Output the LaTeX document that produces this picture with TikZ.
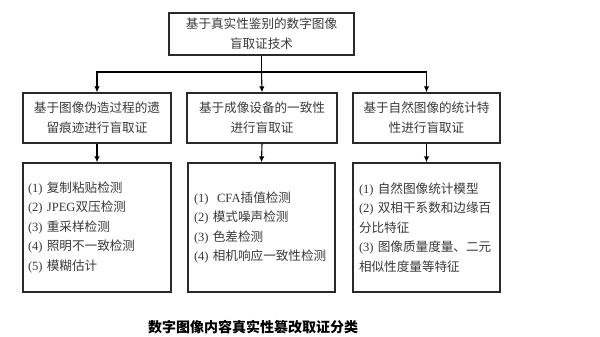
\documentclass[tikz,border=0pt]{standalone}
\usepackage{fontspec}
\setmainfont{Liberation Serif}
\newfontfamily\cjk{Noto Sans CJK SC}
\newcommand{\lt}[1]{{\rmfamily #1}}
\usetikzlibrary{arrows.meta}
\definecolor{txt}{HTML}{3A3A3A}
\definecolor{ln}{HTML}{2A2A2A}
\tikzset{
  box/.style={draw=ln, line width=1.3pt, inner sep=0pt, text=txt,
    font=\fontsize{12.6}{20}\selectfont\cjk, align=center},
  listbox/.style={draw=ln, line width=1.3pt, inner ysep=0pt, text=txt,
    font=\fontsize{12.6}{19.5}\selectfont\cjk, align=left},
  arr/.style={draw=black, line width=1.1pt, -{Latex[length=6pt,width=5.5pt]}},
  plain/.style={draw=black, line width=1.1pt},
  captext/.style={text=black, font=\fontsize{14}{16}\selectfont\cjk\bfseries}
}
\begin{document}
\begin{tikzpicture}[x=1pt,y=-1pt]
\useasboundingbox (0,0) rectangle (600,337);
\fill[white] (0,0) rectangle (600,337);
% top
\node[box, minimum width=185pt, minimum height=42pt] (top) at (261.5,34)
  {基于真实性鉴别的数字图像\\盲取证技术};
% level 2
\node[box, minimum width=148pt, minimum height=50pt] (a) at (97,118)
  {基于图像伪造过程的遗\\留痕迹进行盲取证};
\node[box, minimum width=150pt, minimum height=50pt] (b) at (262,118)
  {基于成像设备的一致性\\进行盲取证};
\node[box, minimum width=147pt, minimum height=50pt] (c) at (426.5,118)
  {基于自然图像的统计特\\性进行盲取证};
% level 3
\node[listbox, inner xsep=5pt, text width=138pt, minimum height=129pt] (a2) at (97,227.5)
  {\lt{(1)} 复制粘贴检测\\
   \lt{(2) JPEG}双压检测\\
   \lt{(3)} 重采样检测\\
   \lt{(4)} 照明不一致检测\\
   \lt{(5)} 模糊估计};
\node[listbox, inner xsep=6pt, text width=135pt, minimum height=129pt] (b2) at (261.5,227.5)
  {\lt{(1)\ \ CFA}插值检测\\
   \lt{(2)} 模式噪声检测\\
   \lt{(3)} 色差检测\\
   \lt{(4)} 相机响应一致性检测};
\node[listbox, inner xsep=6pt, text width=135pt, minimum height=129pt] (c2) at (426.5,227.5)
  {\lt{(1)} 自然图像统计模型\\
   \lt{(2)} 双相干系数和边缘百\\
   分比特征\\
   \lt{(3)} 图像质量度量、二元\\
   相似性度量等特征};
% connectors
\coordinate (j) at (261.5,72);
\draw[plain] (top.south) -- (j);
\draw[arr] (j) -| (a.north);
\draw[arr] (j) -- (b.north);
\draw[arr] (j) -| (c.north);
\draw[arr] (a.south) -- (a2.north);
\draw[arr] (b.south) -- (b2.north);
\draw[arr] (c.south) -- (c2.north);
% caption
\node[captext] (caption) at (253,327) {数字图像内容真实性篡改取证分类};
\end{tikzpicture}
\end{document}
